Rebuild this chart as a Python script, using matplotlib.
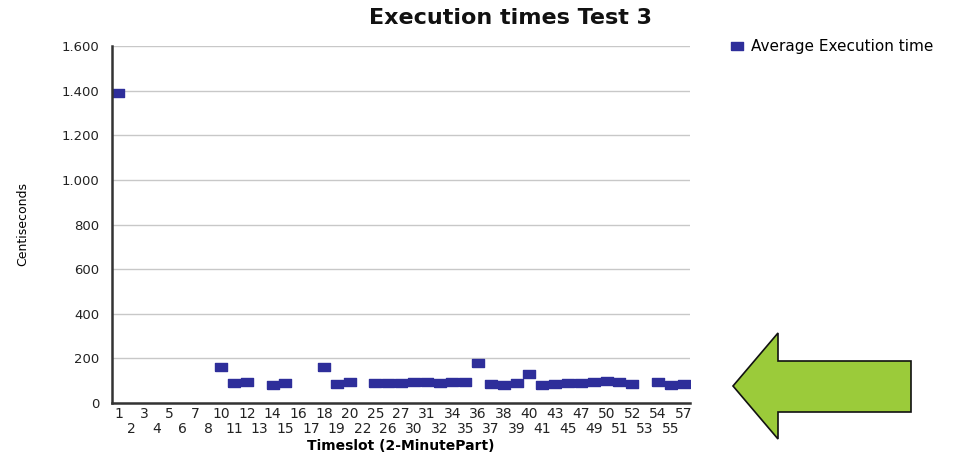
import matplotlib
matplotlib.use("Agg")
import matplotlib.pyplot as plt
from matplotlib.patches import Polygon
from matplotlib.ticker import FuncFormatter
import numpy as np

# timeslots that appear on the category axis
timeslots = [1, 2, 3, 4, 5, 6, 7, 8, 10, 11, 12, 13, 14, 15, 16, 17, 18, 19, 20, 22,
             25, 26, 27, 30, 31, 32, 34, 35, 36, 37, 38, 39, 40, 41, 43, 45, 47, 49,
             50, 51, 52, 53, 54, 55, 57]
nan = np.nan
# average execution time (centiseconds), nan = no value in that slot
avg_exec = [1390, nan, nan, nan, nan, nan, nan, nan, 160, 88, 95, nan, 82, 88, nan, nan,
            160, 87, 94, nan, 88, 88, 88, 92, 95, 90, 92, 95, 180, 85, 80, 88, 130, 80,
            86, 88, 90, 95, 100, 95, 85, nan, 96, 82, 85]
y_ticks = [0, 200, 400, 600, 800, 1000, 1200, 1400, 1600]

W, H = 979, 468
fig = plt.figure(figsize=(W / 100, H / 100), dpi=100)
ax = fig.add_axes([112 / W, 1 - 403 / H, (690 - 112) / W, (403 - 46) / H])

x = np.arange(len(timeslots))
rect = [(-1, -0.6), (1, -0.6), (1, 0.6), (-1, 0.6), (-1, -0.6)]
ax.plot(x, avg_exec, linestyle="none", marker=rect, markersize=9,
        color="#2e2e9a", label="Average Execution time")

ax.set_xlim(-0.5, len(timeslots) - 0.5)
ax.set_ylim(0, 1600)
ax.set_yticks(y_ticks)
ax.yaxis.set_major_formatter(FuncFormatter(lambda v, p: f"{int(v):,}".replace(",", ".")))
ax.grid(axis="y", color="#c8c8c8", linewidth=1)
ax.set_axisbelow(True)

# staggered category labels: odd positions on top row, even on the second row
ax.set_xticks(x[::2])
ax.set_xticklabels([str(t) for t in timeslots[::2]], fontsize=10)
ax.set_xticks(x[1::2], minor=True)
ax.set_xticklabels([str(t) for t in timeslots[1::2]], minor=True, fontsize=10)
ax.tick_params(axis="x", which="major", length=0, pad=3, colors="#222222")
ax.tick_params(axis="x", which="minor", length=0, pad=14, colors="#222222")
ax.tick_params(axis="y", length=0, pad=9, labelsize=9.5, colors="#222222")

for s in ["top", "right"]:
    ax.spines[s].set_visible(False)
for s in ["left", "bottom"]:
    ax.spines[s].set_color("#333333")
    ax.spines[s].set_linewidth(1.8)

ax.set_xlabel("Timeslot (2-MinutePart)", fontsize=10, fontweight="bold", labelpad=2)
ax.set_ylabel("Centiseconds", fontsize=9, family="Liberation Sans Narrow", labelpad=23)

fig.text(511 / W, 1 - 18 / H, "Execution times Test 3", ha="center", va="center",
         fontsize=16, fontweight="bold", color="#111111")

leg = fig.legend(loc="center left", bbox_to_anchor=(724 / W, 1 - 47 / H), frameon=False,
                 fontsize=11, handlelength=0.9, handletextpad=0.5, borderaxespad=0)

# green arrow pointing at the low values
pts = [(733, 386), (778, 333), (778, 361), (911, 361), (911, 412), (778, 412), (778, 439)]
arrow = Polygon([(px / W, 1 - py / H) for px, py in pts], closed=True,
                transform=fig.transFigure, facecolor="#9bcb3a", edgecolor="#111111",
                linewidth=1.2)
fig.patches.append(arrow)

fig.savefig("out.png", dpi=100)
